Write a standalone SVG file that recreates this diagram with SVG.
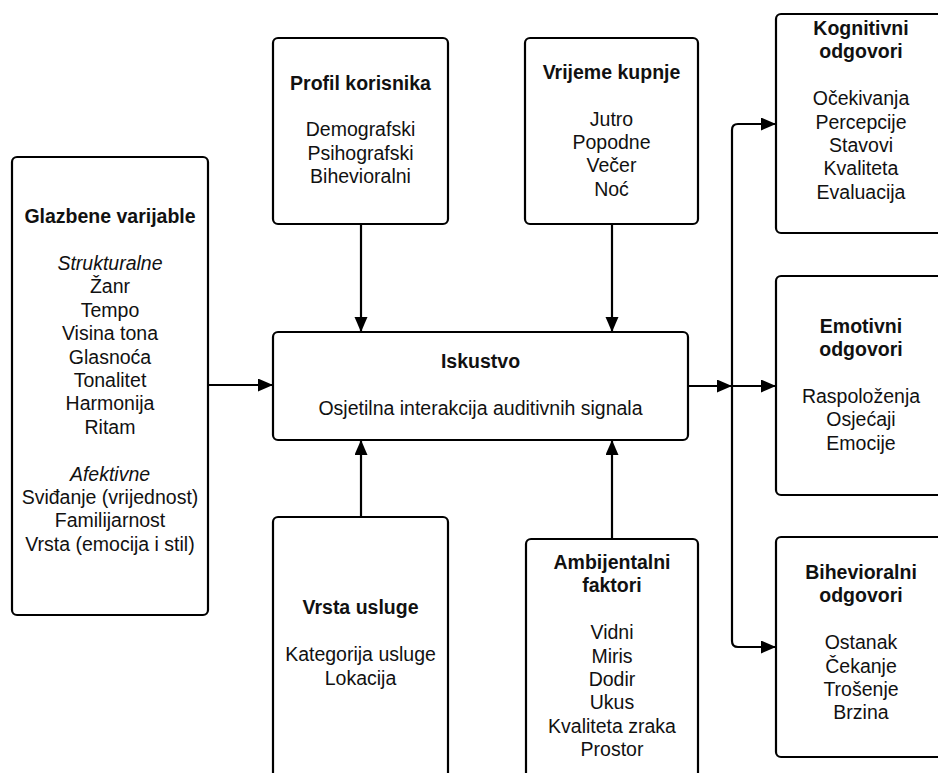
<svg xmlns="http://www.w3.org/2000/svg" width="938" height="773" viewBox="0 0 938 773">
<defs>
<marker id="ah" markerUnits="userSpaceOnUse" markerWidth="16" markerHeight="14" refX="15" refY="6.5" orient="auto">
<path d="M0,0 L15,6.5 L0,13 Z" fill="#000"/>
</marker>
</defs>
<style>
.box{fill:#fff;stroke:#000;stroke-width:2.2}
text{font-family:"Liberation Sans",Arial,sans-serif;font-size:19.5px;fill:#111;text-anchor:middle}
.b{font-weight:bold}
.i{font-style:italic}
.c{fill:none;stroke:#000;stroke-width:2.2}
</style>
<rect width="938" height="773" fill="#fff"/>
<g id="connectors">
<path class="c" d="M208,385 H273" marker-end="url(#ah)"/>
<path class="c" d="M361,224 V332" marker-end="url(#ah)"/>
<path class="c" d="M612,224 V332" marker-end="url(#ah)"/>
<path class="c" d="M361,517 V440" marker-end="url(#ah)"/>
<path class="c" d="M612,539 V440" marker-end="url(#ah)"/>
<path class="c" d="M688,386 H732" marker-end="url(#ah)"/>
<path class="c" d="M732,386 H776" marker-end="url(#ah)"/>
<path class="c" d="M732,386 V130 Q732,124 738,124 H776" marker-end="url(#ah)"/>
<path class="c" d="M732,386 V641 Q732,647 738,647 H776" marker-end="url(#ah)"/>
</g>
<g id="glazbene">
<rect class="box" x="12" y="157" width="196" height="458" rx="5"/>
<text x="110" y="223" class="b">Glazbene varijable</text>
<text x="110" y="270" class="i">Strukturalne</text>
<text x="110" y="293.4">Žanr</text>
<text x="110" y="316.8">Tempo</text>
<text x="110" y="340.2">Visina tona</text>
<text x="110" y="363.6">Glasnoća</text>
<text x="110" y="387">Tonalitet</text>
<text x="110" y="410.4">Harmonija</text>
<text x="110" y="433.8">Ritam</text>
<text x="110" y="480.6" class="i">Afektivne</text>
<text x="110" y="504">Sviđanje (vrijednost)</text>
<text x="110" y="527.4">Familijarnost</text>
<text x="110" y="550.8">Vrsta (emocija i stil)</text>
</g>
<g id="profil">
<rect class="box" x="273" y="38" width="175" height="186" rx="5"/>
<text x="360.5" y="89.5" class="b">Profil korisnika</text>
<text x="360.5" y="136.3">Demografski</text>
<text x="360.5" y="159.7">Psihografski</text>
<text x="360.5" y="183.1">Bihevioralni</text>
</g>
<g id="vrijeme">
<rect class="box" x="525" y="38" width="173" height="186" rx="5"/>
<text x="611.5" y="79" class="b">Vrijeme kupnje</text>
<text x="611.5" y="125.5">Jutro</text>
<text x="611.5" y="148.9">Popodne</text>
<text x="611.5" y="172.3">Večer</text>
<text x="611.5" y="195.7">Noć</text>
</g>
<g id="iskustvo">
<rect class="box" x="273" y="332" width="415" height="108" rx="5"/>
<text x="480.5" y="368" class="b">Iskustvo</text>
<text x="480.5" y="414.8">Osjetilna interakcija auditivnih signala</text>
</g>
<g id="vrsta">
<rect class="box" x="273" y="517" width="175" height="290" rx="5"/>
<text x="360.5" y="614" class="b">Vrsta usluge</text>
<text x="360.5" y="661.3">Kategorija usluge</text>
<text x="360.5" y="684.7">Lokacija</text>
</g>
<g id="ambijentalni">
<rect class="box" x="526" y="539" width="172" height="270" rx="5"/>
<text x="612" y="569" class="b">Ambijentalni</text>
<text x="612" y="592.4" class="b">faktori</text>
<text x="612" y="639.2">Vidni</text>
<text x="612" y="662.6">Miris</text>
<text x="612" y="686">Dodir</text>
<text x="612" y="709.4">Ukus</text>
<text x="612" y="732.8">Kvaliteta zraka</text>
<text x="612" y="756.2">Prostor</text>
</g>
<g id="kognitivni">
<rect class="box" x="776" y="14" width="180" height="219" rx="5"/>
<text x="861" y="35" class="b">Kognitivni</text>
<text x="861" y="58.4" class="b">odgovori</text>
<text x="861" y="105.2">Očekivanja</text>
<text x="861" y="128.6">Percepcije</text>
<text x="861" y="152">Stavovi</text>
<text x="861" y="175.4">Kvaliteta</text>
<text x="861" y="198.8">Evaluacija</text>
</g>
<g id="emotivni">
<rect class="box" x="776" y="276" width="180" height="219" rx="5"/>
<text x="861" y="332.7" class="b">Emotivni</text>
<text x="861" y="356.1" class="b">odgovori</text>
<text x="861" y="402.9">Raspoloženja</text>
<text x="861" y="426.3">Osjećaji</text>
<text x="861" y="449.7">Emocije</text>
</g>
<g id="bihevioralni">
<rect class="box" x="776" y="537" width="180" height="220" rx="5"/>
<text x="861" y="579" class="b">Bihevioralni</text>
<text x="861" y="602.4" class="b">odgovori</text>
<text x="861" y="649.2">Ostanak</text>
<text x="861" y="672.6">Čekanje</text>
<text x="861" y="696">Trošenje</text>
<text x="861" y="719.4">Brzina</text>
</g>
</svg>
